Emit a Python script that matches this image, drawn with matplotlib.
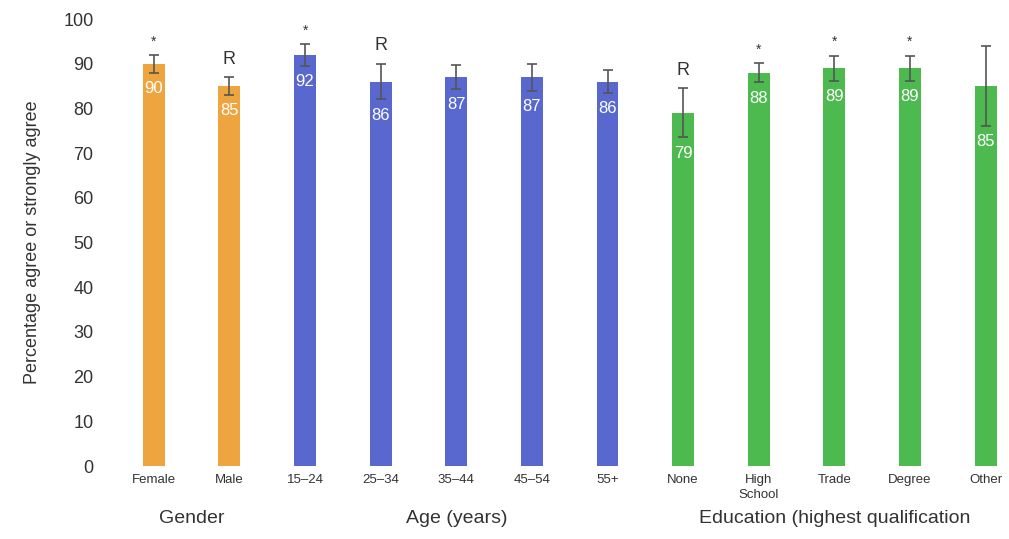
"""Agreement by gender, age and education, with significance markers."""

import matplotlib

matplotlib.use("Agg")
import matplotlib.pyplot as plt
import numpy as np

plt.rcParams["font.family"] = ["Liberation Sans", "DejaVu Sans"]

categories = ["Female", "Male", "15\u201324", "25\u201334", "35\u201344", "45\u201354", "55+",
              "None", "High\nSchool", "Trade", "Degree", "Other"]
values = [90, 85, 92, 86, 87, 87, 86, 79, 88, 89, 89, 85]
errors = [2.0, 2.0, 2.4, 4.0, 2.7, 3.0, 2.5, 5.5, 2.2, 2.8, 2.8, 9.0]
markers = ["*", "R", "*", "R", "", "", "", "R", "*", "*", "*", ""]
groups = ["gender"] * 2 + ["age"] * 5 + ["education"] * 5
group_titles = [("Gender", 0.5), ("Age (years)", 4.0), ("Education (highest qualification", 9.0)]

COLOURS = {"gender": "#EFA53F", "age": "#5868CF", "education": "#4DBA50"}

fig = plt.figure(figsize=(10.09, 5.39), dpi=100)
ax = fig.add_axes([0.112, 0.1354, 0.888, 0.8293])

x = np.arange(len(categories))
bar_colours = [COLOURS[g] for g in groups]
ax.bar(x, values, width=0.29, color=bar_colours, zorder=2)
ax.errorbar(x, values, yerr=errors, fmt="none", ecolor="#555555", elinewidth=1.2,
            capsize=3.5, capthick=1.2, zorder=3)

for xi, v, e, m in zip(x, values, errors, markers):
    ax.text(xi, v - e - 3.5, f"{v}", ha="center", va="center", color="white",
            fontsize=12, zorder=4)
    if m == "*":
        ax.text(xi, v + e + 3.0, "*", ha="center", va="center", color="#333333",
                fontsize=10, clip_on=False)
    elif m == "R":
        ax.text(xi, v + e + 4.0, "R", ha="center", va="center", color="#333333",
                fontsize=13, clip_on=False)

ax.set_xlim(-0.54, 11.31)
ax.set_ylim(0, 100)
ax.set_yticks(np.arange(0, 101, 10))
ax.tick_params(axis="y", length=0, labelsize=13, pad=14, labelcolor="#333333")
ax.set_xticks(x)
ax.set_xticklabels(categories, fontsize=9.5, color="#333333", linespacing=1.3, va="top")
ax.tick_params(axis="x", length=0, pad=6)
for side in ("top", "right", "left", "bottom"):
    ax.spines[side].set_visible(False)
ax.set_ylabel("Percentage agree or strongly agree", fontsize=13, color="#333333", labelpad=16)

for title, pos in group_titles:
    px = ax.transData.transform((pos, 0))[0] / fig.bbox.width
    fig.text(px, 0.022, title, ha="center", va="bottom", fontsize=14, color="#333333")

fig.savefig("out.png", dpi=100)
